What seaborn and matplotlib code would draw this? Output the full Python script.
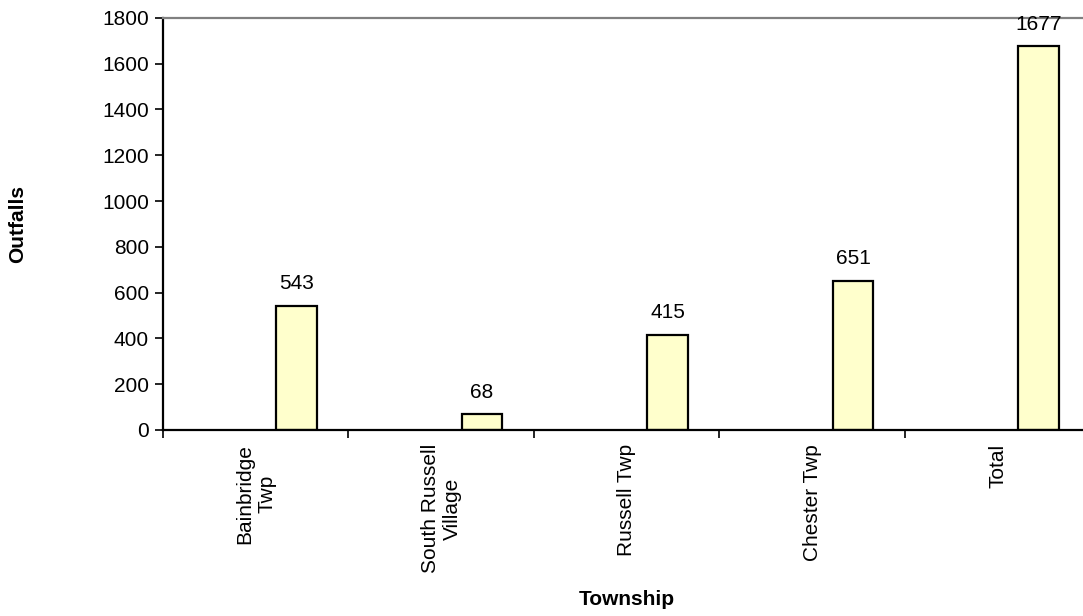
import pandas as pd
import seaborn as sns
import matplotlib.pyplot as plt

# Data
townships = ['Bainbridge\nTwp', 'South Russell\nVillage', 'Russell Twp', 'Chester Twp', 'Total']
outfalls = [543, 68, 415, 651, 1677]
blank = [0, 0, 0, 0, 0]  # empty first series (keeps bars offset like the original)

df = pd.DataFrame({
    'Township': townships * 2,
    'Outfalls': blank + outfalls,
    'Series': ['blank'] * len(townships) + ['outfalls'] * len(townships),
})

sns.set_style('white')
plt.rcParams['font.family'] = ['Liberation Sans', 'DejaVu Sans']
plt.rcParams['text.color'] = 'black'
plt.rcParams['xtick.color'] = 'black'
plt.rcParams['ytick.color'] = 'black'
plt.rcParams['axes.labelcolor'] = 'black'

fig = plt.figure(figsize=(10.83, 6.16), dpi=100)
ax = fig.add_axes([0.1505, 0.302, 0.8564, 0.669])

sns.barplot(data=df, x='Township', y='Outfalls', hue='Series',
            hue_order=['blank', 'outfalls'], order=townships,
            palette={'blank': '#FFFFCC', 'outfalls': '#FFFFCC'}, saturation=1,
            width=0.88, gap=0.5, edgecolor='black', linewidth=1.6,
            legend=False, ax=ax)

# hide the empty series and label the real bars
for cont in ax.containers:
    if all(p.get_height() == 0 for p in cont):
        for p in cont:
            p.set_visible(False)
    else:
        ax.bar_label(cont, padding=9, fontsize=15, color='black')

ax.set_ylim(0, 1800)
ax.set_yticks(range(0, 1801, 200))
ax.set_xlim(-0.5, len(townships) - 0.5)

# category ticks sit on the boundaries, labels in the middle
ax.set_xticks(range(len(townships)))
ax.set_xticklabels(townships, rotation=90, fontsize=15, multialignment='center')
ax.set_xticks([i - 0.5 for i in range(len(townships) + 1)], minor=True)
ax.tick_params(axis='x', which='major', length=0, pad=10)
ax.tick_params(axis='x', which='minor', length=6, width=1.2, color='black', direction='out', bottom=True)
ax.tick_params(axis='y', length=6, width=1.2, color='black', direction='out', left=True, labelsize=15, pad=4)

for side in ['left', 'bottom']:
    ax.spines[side].set_color('black')
    ax.spines[side].set_linewidth(1.6)
ax.spines['top'].set_color('#808080')
ax.spines['top'].set_linewidth(1.6)
ax.spines['right'].set_visible(False)

ax.set_xlabel('Township', fontsize=15, fontweight='bold', labelpad=12)
ax.set_ylabel('Outfalls', fontsize=15, fontweight='bold', labelpad=54)

fig.savefig('out.png', dpi=100)
